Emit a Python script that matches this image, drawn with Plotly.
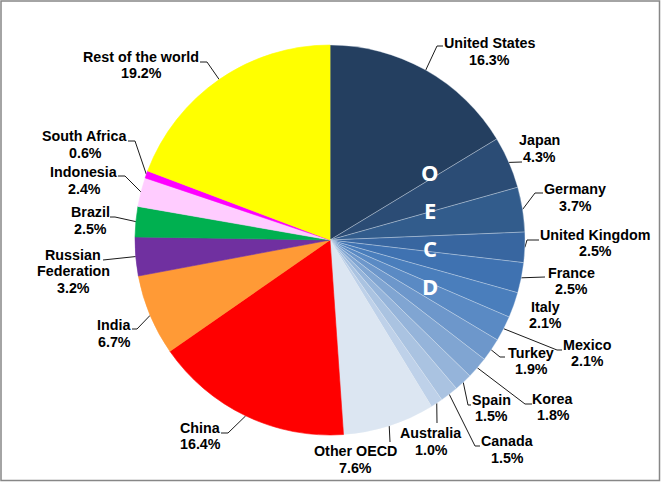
import plotly.graph_objects as go
import numpy as np

# Anteile in Prozent, im Uhrzeigersinn ab 12 Uhr
countries = ["United States", "Japan", "Germany", "United Kingdom", "France", "Italy",
             "Mexico", "Turkey", "Korea", "Spain", "Canada", "Australia", "Other OECD",
             "China", "India", "Russian<br>Federation", "Brazil", "Indonesia",
             "South Africa", "Rest of the world"]
shares = [16.3, 4.3, 3.7, 2.5, 2.5, 2.1, 2.1, 1.9, 1.8, 1.5, 1.5, 1.0, 7.6,
          16.4, 6.7, 3.2, 2.5, 2.4, 0.6, 19.2]
colors = ["#243F60", "#2B4C75", "#325C8C", "#3866A0", "#3F72B1", "#4A7EBC",
          "#5A8AC4", "#6D97CB", "#80A5D2", "#95B4DA", "#AAC3E1", "#BED1E9", "#DCE6F2",
          "#FF0000", "#FF9A36", "#7030A0", "#00B050", "#FFCCFF", "#FF00FF", "#FFFF00"]
oecd = [True] * 13 + [False] * 7
oecd_letters = ["O", "E", "C", "D"]

# Pie-Geometrie in Pixeln
W, H = 661, 482
cx, cy, r = 330, 240, 195

# Beschriftung: Textmitte (x, y) und Knickpunkt der Linie (ex, ey, hx)
label_pos = [
    (489, 51.5, 437, 46, 443),
    (539, 148.5, 522, 162, 522),
    (575, 197.5, 535, 193, 543),
    (595, 243, 527, 240, 539),
    (571, 281, 545, 277, 545),
    (545, 315, None, None, None),
    (587, 353, 557, 350, 562),
    (531, 361, 500, 357, 505),
    (553, 407, 525, 404, 532),
    (491, 408, 468, 405, 471),
    (507, 449.5, 475, 446, 480),
    (431, 441.5, 437, 423, 437),
    (355, 459.5, 390, 442, 390),
    (200, 436, 228, 433, 221),
    (114, 333.5, 137, 329, 132),
    (73, 271, 103, 260, 103),
    (90, 220.5, 115, 217, 110),
    (84, 180.5, 125, 176, 118),
    (85, 144.5, 135, 141, 128),
    (141, 65, 207, 62, 200),
]
line_gap = 16.5
letter_y = [172, 210, 248, 286]

fig = go.Figure()

line_cols = ["rgba(225,233,243,0.55)" if o else c for o, c in zip(oecd, colors)]
fig.add_trace(go.Pie(
    labels=countries, values=shares, sort=False, direction="clockwise", rotation=0,
    marker=dict(colors=colors, line=dict(color=line_cols, width=0.6)),
    textinfo="none", hoverinfo="skip", showlegend=False,
    domain=dict(x=[(cx - r) / W, (cx + r) / W], y=[(H - cy - r) / H, (H - cy + r) / H]),
))

# Führungslinien ab der Mitte jedes Segments
total = sum(shares)
cum = np.cumsum([0] + shares[:-1])
lx, ly = [], []
for s, c0, pos in zip(shares, cum, label_pos):
    tx, ty, ex, ey, hx = pos
    if ex is None:
        continue
    ang = np.deg2rad((c0 + s / 2) / total * 360)
    sx, sy = cx + r * np.sin(ang), cy - r * np.cos(ang)
    lx += [sx, ex, hx, None]
    ly += [sy, ey, ey, None]
fig.add_trace(go.Scatter(x=lx, y=ly, mode="lines", line=dict(color="#1a1a1a", width=1),
                         hoverinfo="skip", showlegend=False))

font = dict(family="Liberation Sans, Arial", size=14.3, color="black", weight="bold")
for name, s, pos in zip(countries, shares, label_pos):
    lines = name.split("<br>") + [f"{s:.1f}%"]
    n = len(lines)
    for i, txt in enumerate(lines):
        fig.add_annotation(x=pos[0], y=pos[1] + (i - (n - 1) / 2) * line_gap,
                           xref="x", yref="y", showarrow=False, text=txt, font=font,
                           xanchor="center", yanchor="middle")

for ch, yy in zip(oecd_letters, letter_y):
    fig.add_annotation(x=430, y=yy, xref="x", yref="y", showarrow=False, text=ch,
                       font=dict(family="Open Sans, Liberation Sans", size=22,
                                 color="white", weight="bold"))

fig.add_shape(type="rect", xref="x", yref="y", x0=1, y0=1, x1=659.5, y1=480.5,
              line=dict(color="#878787", width=1.5))

fig.update_layout(
    width=W, height=H, margin=dict(l=0, r=0, t=0, b=0),
    paper_bgcolor="white", plot_bgcolor="rgba(0,0,0,0)", showlegend=False,
    xaxis=dict(range=[0, W], visible=False, fixedrange=True, domain=[0, 1]),
    yaxis=dict(range=[H, 0], visible=False, fixedrange=True, domain=[0, 1]),
)

fig.write_html("out.html", config={"displayModeBar": False},
               post_script="document.body.style.margin='0';")
